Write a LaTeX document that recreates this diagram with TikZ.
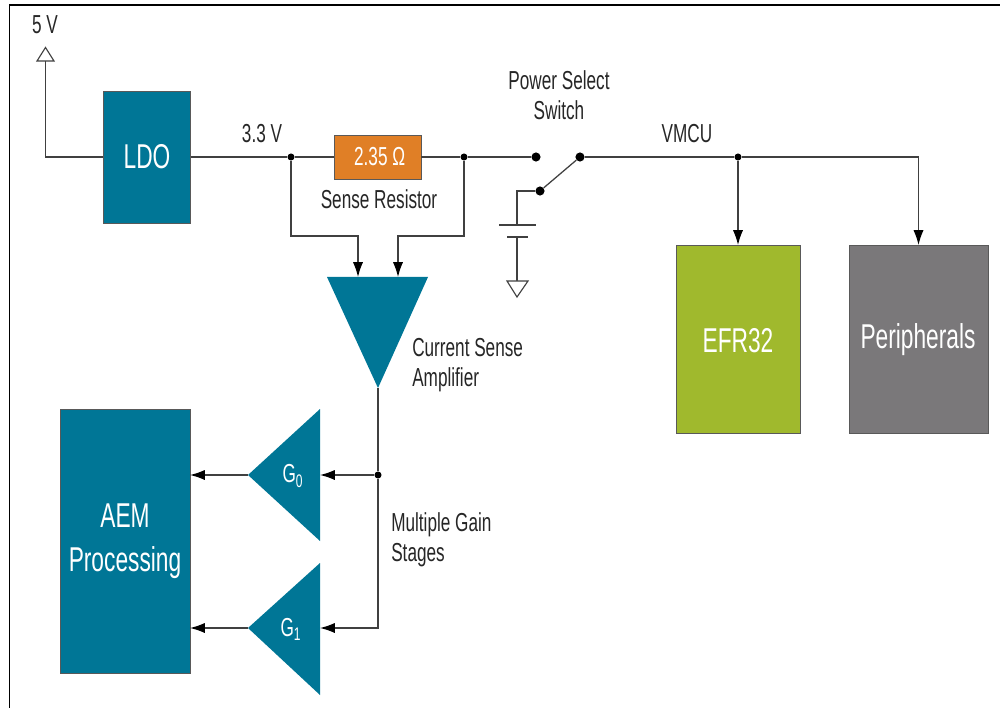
\documentclass[tikz,border=0pt]{standalone}
\usepackage{fontspec}
\setmainfont[FakeStretch=0.66]{Liberation Sans}
\usetikzlibrary{arrows.meta}
\definecolor{aemteal}{HTML}{007696}
\definecolor{resorange}{HTML}{E07F26}
\definecolor{efrgreen}{HTML}{A0B92D}
\definecolor{perigray}{HTML}{7A787A}
\definecolor{wiregray}{HTML}{404040}
\tikzset{
	wire/.style = {wiregray, line width = .9pt},
	feed/.style = {wire, -{Latex[length = 10.5pt, width = 7.2pt, black]}},
	block/.style = {draw = black!65, line width = .6pt, text = white, inner sep = 0pt, align = center},
	dot/.style = {circle, fill = black, inner sep = 0pt, minimum size = 5pt},
	bigdot/.style = {circle, fill = black, inner sep = 0pt, minimum size = 6.5pt},
	label/.style = {text = black!85, inner sep = 0pt, font = \fontsize{18.5}{21.5}\selectfont},
	big/.style = {font = \fontsize{24.5}{31}\selectfont},
	gain/.style = {fill = aemteal},
	rail/.style = {draw = wiregray, line width = .8pt, fill = white, line join = miter}
}
\begin{document}
\begin{tikzpicture}[x = .025cm, y = -.025cm]
		\useasboundingbox (0,0) rectangle (1000,708);
		\draw [black, line width = 1.3pt] (9.5,708) -- (9.5,5) -- (1000,5);
		
		\node (LDO) at (147,157) [block, big, fill = aemteal, minimum width = 2.175cm, minimum height = 3.3cm] {LDO};
		\node (Rs) at (377.5,157) [block, fill = resorange, minimum width = 2.175cm, minimum height = 1.1cm, font = \fontsize{18.5}{21.5}\selectfont] {\,2.35 Ω};
		\node (AEM) at (125,541) [block, big, fill = aemteal, minimum width = 3.25cm, minimum height = 6.6cm] {};
		\node (AEMtext) at (125,541) [text = white, inner sep = 0pt, align = center, big] {AEM\\Processing};
		\node (EFR) at (738,339) [block, fill = efrgreen, minimum width = 3.1cm, minimum height = 4.7cm] {};
		\node (EFRtext) at (738,341) [text = white, inner sep = 0pt, big] {EFR32};
		\node (Peri) at (919,339) [block, fill = perigray, minimum width = 3.475cm, minimum height = 4.7cm] {};
		\node (Peritext) at (918,340) [text = white, inner sep = 0pt, big] {Peripherals};
		
		\node (five) at (45,25) [label] {5 V};
		\node (three) at (262,134) [label] {3.3 V};
		\node (sense) at (379,199) [label] {Sense Resistor};
		\node (switch) at (559,95) [label, align = center] {Power Select\\Switch};
		\node (vmcu) at (687,134) [label] {VMCU};
		\node (amp) at (412,365) [label, anchor = west, align = left] {Current Sense\\Amplifier};
		\node (stages) at (391,540) [label, anchor = west, align = left] {Multiple Gain\\Stages};
		
		\node (J1) at (291,157) [dot] {};
		\node (J2) at (464,157) [dot] {};
		\node (J3) at (738,157) [dot] {};
		\node (J4) at (378,475) [dot] {};
		\node (S1) at (536,157) [bigdot] {};
		\node (S2) at (580,157) [bigdot] {};
		\node (S3) at (540,191) [bigdot] {};
		
		\coordinate (top5) at (45.5,61);
		\coordinate (bat1) at (517,225);
		\coordinate (bat2) at (517,237);
		\coordinate (gnd) at (517,281);
		\coordinate (ampL) at (358,277);
		\coordinate (ampR) at (398,277);
		\coordinate (ampO) at (378,388);
		\coordinate (G0in) at (320,475);
		\coordinate (G0out) at (248,475);
		\coordinate (G1in) at (320,628);
		\coordinate (G1out) at (248,628);
		
		% amplifiers
		\fill [gain] (327,277) -- (428,277) -- (ampO) -- cycle;
		\fill [gain] (G0out) -- (320,409) -- (320,541) -- cycle;
		\fill [gain] (G1out) -- (320,563) -- (320,695) -- cycle;
		\node (G0) at (293,476) [label, text = white] {G\textsubscript{0}};
		\node (G1) at (291,629) [label, text = white] {G\textsubscript{1}};
		
		% rails
		\draw [wire] (LDO) -- (45.5,157) -- (top5);
		\draw [rail] (37,61) -- (54,61) -- (45.5,47.5) -- cycle;
		\draw [wire] (LDO) -- (J1) -- (Rs);
		\draw [wire] (Rs) -- (J2) -- (S1);
		\draw [wire] (S2) -- (J3) -- (918.5,157);
		\draw [wire] (S3) -- (S2);
		\draw [wire] (S3) -- (517,191) -- (bat1);
		\draw [wire] (499,225) -- (536,225);
		\draw [wire] (507,237) -- (528,237);
		\draw [wire] (bat2) -- (gnd);
		\draw [rail] (507,281) -- (528,281) -- (517,297) -- cycle;
		
		% feeds
		\draw [feed] (J3) -- (738,245);
		\draw [feed] (918.5,157) -- (918.5,245);
		\draw [feed] (J1) -- (291,236) -- (358,236) -- (ampL);
		\draw [feed] (J2) -- (464,236) -- (398,236) -- (ampR);
		\draw [wire] (ampO) -- (J4);
		\draw [feed] (J4) -- (G0in);
		\draw [feed] (J4) -- (378,628) -- (G1in);
		\draw [feed] (G0out) -- (190,475);
		\draw [feed] (G1out) -- (190,628);
		\end{tikzpicture}
\end{document}
